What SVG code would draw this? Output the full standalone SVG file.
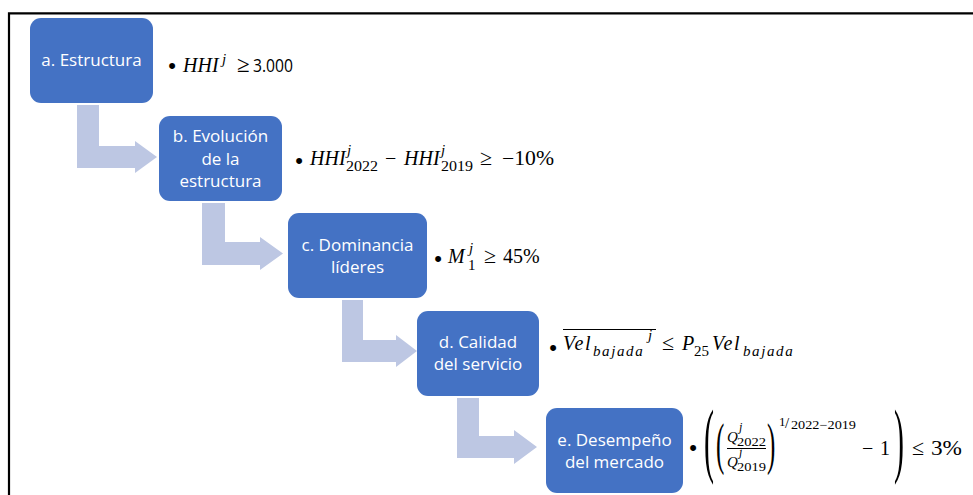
<svg xmlns="http://www.w3.org/2000/svg" width="973" height="495" viewBox="0 0 973 495">
<style>
.box{fill:#4472C4}
.lbl{font-family:"Open Sans","Liberation Sans",Arial,sans-serif;font-size:17px;fill:#fff;text-anchor:middle}
.arr{fill:#BDC7E3}
.m{font-family:"Liberation Serif","Times New Roman",serif;font-style:italic;font-size:20px;fill:#000}
.u{font-style:normal}
.s{font-size:15px}
.xs{font-size:12px}
.ls{letter-spacing:1.6px}
.bul{font-family:"Liberation Sans",Arial,sans-serif;font-size:22px;fill:#000;text-anchor:middle}
.sans{font-family:"Open Sans","Liberation Sans",Arial,sans-serif;font-style:normal;font-size:18px}
.rule{stroke:#000;stroke-width:1.2;fill:none}
</style>
<rect width="973" height="495" fill="#fff"/>
<path d="M9 495 V13.3 H973" fill="none" stroke="#000" stroke-width="2.2"/>

<g id="connectors">
<polygon class="arr" points="77,105 99,105 99,146 135,146 135,141 157,157 135,173 135,168 77,168"/>
<polygon class="arr" points="202,203 225,203 225,242 260,242 260,237 283,253.5 260,270 260,265 202,265"/>
<polygon class="arr" points="342,300 363,300 363,340 396,340 396,335 417,351 396,367 396,362 342,362"/>
<polygon class="arr" points="457,398 479,398 479,436 514,436 514,430 537,447 514,464 514,458 457,458"/>
</g>

<g id="node-a">
<rect class="box" x="30" y="18" width="123" height="85" rx="11"/>
<text class="lbl" x="91.5" y="66">a. Estructura</text>
</g>
<g id="node-b">
<rect class="box" x="159" y="116" width="123" height="85" rx="11"/>
<text class="lbl" x="220.5" y="142">b. Evolución</text>
<text class="lbl" x="220.5" y="164.5">de la</text>
<text class="lbl" x="220.5" y="187">estructura</text>
</g>
<g id="node-c">
<rect class="box" x="288" y="213" width="139" height="85" rx="11"/>
<text class="lbl" x="357.5" y="251">c. Dominancia</text>
<text class="lbl" x="357.5" y="273">líderes</text>
</g>
<g id="node-d">
<rect class="box" x="417" y="311" width="122" height="85" rx="11"/>
<text class="lbl" x="478" y="348">d. Calidad</text>
<text class="lbl" x="478" y="370">del servicio</text>
</g>
<g id="node-e">
<rect class="box" x="546" y="408" width="137" height="85" rx="11"/>
<text class="lbl" x="614.5" y="446">e. Desempeño</text>
<text class="lbl" x="614.5" y="468">del mercado</text>
</g>

<g id="criterion-a">
<text class="bul" x="172" y="72.5">•</text>
<text class="m" x="183" y="72">HHI</text>
<text class="m s" x="222" y="64">j</text>
<text class="m u" x="237" y="72" style="font-size:23px">≥</text>
<text class="sans" x="253" y="72" textLength="40" lengthAdjust="spacingAndGlyphs">3.000</text>
</g>

<g id="criterion-b">
<text class="bul" x="299" y="167.5">•</text>
<text class="m" x="310" y="165">HHI</text>
<text class="m s" x="347" y="155">j</text>
<text class="m u s" x="346" y="171" textLength="32" lengthAdjust="spacingAndGlyphs">2022</text>
<text class="m u" x="385" y="165">−</text>
<text class="m" x="404" y="165">HHI</text>
<text class="m s" x="441" y="155">j</text>
<text class="m u s" x="441" y="171" textLength="32" lengthAdjust="spacingAndGlyphs">2019</text>
<text class="m u" x="480" y="165" style="font-size:22px">≥</text>
<text class="m u" x="502" y="165" textLength="52" lengthAdjust="spacingAndGlyphs">−10%</text>
</g>

<g id="criterion-c">
<text class="bul" x="438" y="265.5">•</text>
<text class="m" x="448" y="263">M</text>
<text class="m s" x="469" y="253">j</text>
<text class="m u s" x="468" y="270">1</text>
<text class="m u" x="484" y="263" style="font-size:22px">≥</text>
<text class="m u" x="503" y="263">45%</text>
</g>

<g id="criterion-d">
<text class="bul" x="553" y="354.5">•</text>
<line class="rule" x1="563" y1="329.5" x2="656" y2="329.5"/>
<text class="m ls" x="563" y="350">Vel</text>
<text class="m s ls" x="593" y="356">bajada</text>
<text class="m s" x="648" y="340">j</text>
<text class="m u" x="662" y="350" style="font-size:22px">≤</text>
<text class="m" x="682" y="350">P</text>
<text class="m u s" x="694" y="356">25</text>
<text class="m ls" x="712" y="350">Vel</text>
<text class="m s ls" x="743" y="356">bajada</text>
</g>

<g id="criterion-e">
<text class="bul" x="693" y="454.5">•</text>
<text class="m u" transform="translate(704,467) scale(1,2.75)" style="font-size:30px">(</text>
<text class="m u" transform="translate(716,463) scale(1,2.3)" style="font-size:25px">(</text>
<text class="m" x="727" y="442" style="font-size:15px">Q</text>
<text class="m xs" x="739" y="431">j</text>
<text class="m u xs" x="737" y="446" textLength="29" lengthAdjust="spacingAndGlyphs">2022</text>
<line class="rule" x1="727" y1="448.5" x2="766" y2="448.5" stroke-width="1"/>
<text class="m" x="727" y="467" style="font-size:15px">Q</text>
<text class="m xs" x="739" y="456">j</text>
<text class="m u xs" x="737" y="471" textLength="29" lengthAdjust="spacingAndGlyphs">2019</text>
<text class="m u" transform="translate(767,463) scale(1,2.3)" style="font-size:25px">)</text>
<text class="m u" x="779" y="426" style="font-size:13px">1</text>
<text class="m u" x="785" y="428" style="font-size:15px">/</text>
<text class="m u" x="791" y="429" style="font-size:12px" textLength="65" lengthAdjust="spacingAndGlyphs">2022−2019</text>
<text class="m u" x="862" y="455">−</text>
<text class="m u" x="880" y="455">1</text>
<text class="m u" transform="translate(894,467) scale(1,2.75)" style="font-size:30px">)</text>
<text class="m u" x="912" y="455" style="font-size:22px">≤</text>
<text class="m u" x="931" y="455" textLength="31" lengthAdjust="spacingAndGlyphs">3%</text>
</g>
</svg>
